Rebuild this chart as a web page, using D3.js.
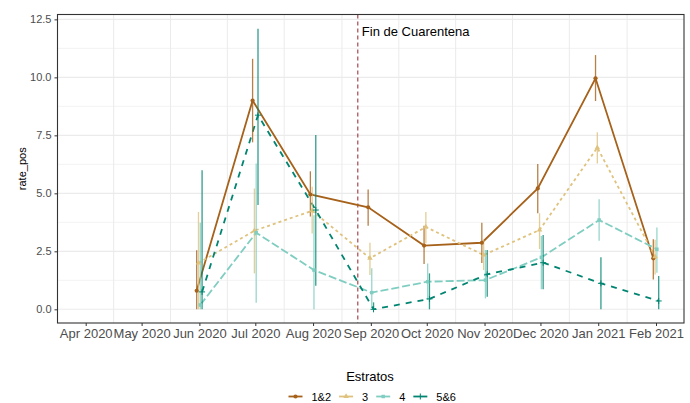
<!DOCTYPE html>
<html>
<head>
<meta charset="utf-8">
<script src="https://cdn.jsdelivr.net/npm/d3@7"></script>
<style>
  body { margin: 0; background: #fff; }
  text { font-family: "Liberation Sans", Arial, sans-serif; }
</style>
</head>
<body>
<div id="chart"></div>
<script>
// ----------- data ------------
const months = ["2020-06-01", "2020-07-01", "2020-08-01", "2020-09-01", "2020-10-01",
                "2020-11-01", "2020-12-01", "2021-01-01", "2021-02-01"];
const estratos = ["1&2", "3", "4", "5&6"];

const rate12 = [0.8, 9.0, 4.95, 4.4, 2.75, 2.87, 5.21, 9.96, 2.2];
const low12  = [0.0, 7.2, 4.0, 3.6, 1.95, 2.0, 4.14, 8.98, 1.29];
const high12 = [2.55, 10.8, 5.95, 5.17, 3.6, 3.73, 6.26, 10.96, 3.02];

const rate3 = [2.0, 3.39, 4.25, 2.2, 3.55, 2.34, 3.42, 6.97, 2.27];
const low3  = [0.0, 1.55, 3.27, 1.48, 2.85, 1.69, 2.6, 6.29, 1.5];
const high3 = [4.2, 5.21, 5.28, 2.87, 4.2, 3.0, 4.14, 7.63, 3.0];

const rate4 = [0.19, 3.3, 1.69, 0.72, 1.19, 1.26, 2.24, 3.85, 2.59];
const low4  = [0.0, 0.28, 0.0, 0.1, 0.4, 0.47, 0.86, 2.96, 1.58];
const high4 = [3.73, 6.29, 4.06, 1.77, 1.98, 2.56, 3.16, 4.74, 3.53];

const rate56 = [0.75, 8.37, 4.28, 0.0, 0.45, 1.51, 2.01, 1.12, 0.36];
const low56  = [0.0, 4.5, 1.02, 0.0, 0.0, 0.54, 0.86, 0.0, 0.0];
const high56 = [6.0, 12.1, 7.51, 0.3, 1.55, 2.56, 3.2, 2.24, 1.44];

const xTicks = ["2020-04-01", "2020-05-01", "2020-06-01", "2020-07-01", "2020-08-01", "2020-09-01",
                "2020-10-01", "2020-11-01", "2020-12-01", "2021-01-01", "2021-02-01"];
const yTicks = [0, 2.5, 5, 7.5, 10, 12.5];
const cuarentenaDate = "2020-08-25";

// ----------- layout ------------
const width = 690, height = 403;
const panel = { left: 57.5, right: 684, top: 14.5, bottom: 323 };

const colors = ["#A6611A", "#DFC27D", "#80CDC1", "#018571"];
const dashes = [null, "3,3", "8,3", "6,6"];
const dodge = [-2.7, -0.9, 0.9, 2.7];
const shapes = ["circle", "triangle", "square", "plus"];

const parse = d3.utcParse("%Y-%m-%d");
const fmt = d3.utcFormat("%b %Y");

const series = [
  { rate: rate12, low: low12, high: high12 },
  { rate: rate3, low: low3, high: high3 },
  { rate: rate4, low: low4, high: high4 },
  { rate: rate56, low: low56, high: high56 }
].map((s, i) => ({
  name: estratos[i],
  color: colors[i],
  values: months.map((m, j) => ({ date: parse(m), rate: s.rate[j], low: s.low[j], high: s.high[j] }))
}));

const x = d3.scaleUtc()
  .domain([parse("2020-04-01"), parse("2021-02-01")])
  .range([85.7, 656]);
const y = d3.scaleLinear()
  .domain([-0.59, 12.71])
  .range([panel.bottom, panel.top]);

const svg = d3.select("#chart").append("svg")
  .attr("width", width)
  .attr("height", height);

svg.append("defs").append("clipPath").attr("id", "clip")
  .append("rect")
  .attr("x", panel.left).attr("y", panel.top)
  .attr("width", panel.right - panel.left).attr("height", panel.bottom - panel.top);

// grid
const grid = svg.append("g");
d3.range(0, 12.51, 1.25).forEach(v => {
  grid.append("line")
    .attr("x1", panel.left).attr("x2", panel.right)
    .attr("y1", y(v)).attr("y2", y(v))
    .attr("stroke", "#EBEBEB").attr("stroke-width", v % 2.5 === 0 ? 1.1 : 0.6);
});
const tickDates = xTicks.map(parse);
d3.pairs(tickDates).forEach(([a, b]) => {
  const gx = (x(a) + x(b)) / 2;
  grid.append("line")
    .attr("x1", gx).attr("x2", gx)
    .attr("y1", panel.top).attr("y2", panel.bottom)
    .attr("stroke", "#EBEBEB").attr("stroke-width", 1);
});

const plot = svg.append("g").attr("clip-path", "url(#clip)");

// quarantine line
const qx = x(parse(cuarentenaDate));
plot.append("line")
  .attr("x1", qx).attr("x2", qx)
  .attr("y1", panel.top).attr("y2", panel.bottom)
  .attr("stroke", "#A0353A").attr("stroke-width", 1.1)
  .attr("stroke-dasharray", "4,3");
svg.append("text")
  .attr("x", qx + 4).attr("y", 35.5)
  .attr("font-size", 13).attr("fill", "#000")
  .text("Fin de Cuarentena");

// lines
const line = d3.line();
series.forEach((s, i) => {
  const pts = s.values.map(d => [x(d.date) + dodge[i], y(d.rate)]);
  plot.append("path")
    .attr("d", line(pts))
    .attr("fill", "none")
    .attr("stroke", s.color)
    .attr("stroke-width", 1.8)
    .attr("stroke-dasharray", dashes[i]);
});

// error bars
series.forEach((s, i) => {
  plot.selectAll(null)
    .data(s.values)
    .join("line")
    .attr("x1", d => x(d.date) + dodge[i])
    .attr("x2", d => x(d.date) + dodge[i])
    .attr("y1", d => y(d.low))
    .attr("y2", d => y(d.high))
    .attr("stroke", s.color)
    .attr("stroke-width", 1.3)
    .attr("opacity", 0.8);
});

// point shapes
function drawShape(g, shape, cx, cy, color) {
  if (shape === "plus") {
    g.append("path")
      .attr("d", `M${cx - 3},${cy}H${cx + 3}M${cx},${cy - 3}V${cy + 3}`)
      .attr("stroke", color).attr("stroke-width", 1).attr("fill", "none");
  } else {
    const sym = { circle: d3.symbolCircle, triangle: d3.symbolTriangle, square: d3.symbolSquare }[shape];
    const size = { circle: 14, triangle: 13, square: 12 }[shape];
    g.append("path")
      .attr("d", d3.symbol(sym, size)())
      .attr("transform", `translate(${cx},${cy})`)
      .attr("fill", color);
  }
}
series.forEach((s, i) => {
  s.values.forEach(d => drawShape(plot, shapes[i], x(d.date) + dodge[i], y(d.rate), s.color));
});

// panel border
svg.append("rect")
  .attr("x", panel.left).attr("y", panel.top)
  .attr("width", panel.right - panel.left).attr("height", panel.bottom - panel.top)
  .attr("fill", "none").attr("stroke", "#333").attr("stroke-width", 1.1);

// axes
const xAxis = svg.append("g")
  .attr("transform", `translate(0,${panel.bottom})`)
  .call(d3.axisBottom(x).tickValues(tickDates).tickFormat(fmt).tickSize(3).tickPadding(3));
xAxis.select(".domain").remove();
xAxis.selectAll(".tick line").attr("stroke", "#333");
xAxis.selectAll(".tick text").attr("font-size", 13).attr("fill", "#4D4D4D")
  .attr("font-family", "Liberation Sans, Arial, sans-serif");

const yAxis = svg.append("g")
  .attr("transform", `translate(${panel.left},0)`)
  .call(d3.axisLeft(y).tickValues(yTicks).tickFormat(d3.format(".1f")).tickSize(3).tickPadding(3));
yAxis.select(".domain").remove();
yAxis.selectAll(".tick line").attr("stroke", "#333");
yAxis.selectAll(".tick text").attr("font-size", 11).attr("fill", "#4D4D4D")
  .attr("font-family", "Liberation Sans, Arial, sans-serif");

svg.append("text")
  .attr("transform", `translate(26,${(panel.top + panel.bottom) / 2}) rotate(-90)`)
  .attr("text-anchor", "middle")
  .attr("font-size", 11).attr("fill", "#000")
  .text("rate_pos");

// legend
svg.append("text")
  .attr("x", 370).attr("y", 381)
  .attr("text-anchor", "middle")
  .attr("font-size", 13).attr("fill", "#000")
  .text("Estratos");

const legend = svg.append("g");
let cx = 295.5;
const ly = 396.5;
series.forEach((s, i) => {
  legend.append("line")
    .attr("x1", cx - 7).attr("x2", cx + 7)
    .attr("y1", ly).attr("y2", ly)
    .attr("stroke", s.color).attr("stroke-width", 1.8);
  drawShape(legend, shapes[i], cx, ly, s.color);
  const t = legend.append("text")
    .attr("x", cx + 16).attr("y", ly + 4)
    .attr("font-size", 11).attr("fill", "#000")
    .text(s.name);
  cx += 16 + t.node().getComputedTextLength() + 15;
});
</script>
</body>
</html>
